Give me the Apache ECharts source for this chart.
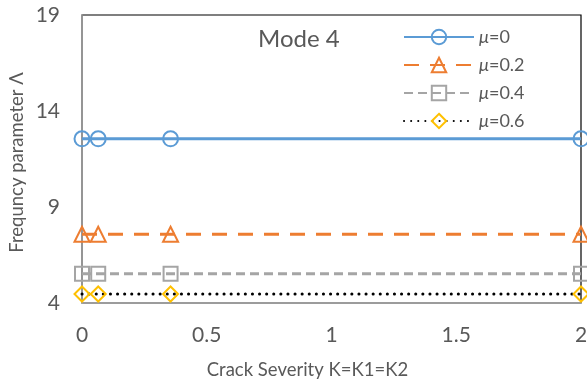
<!DOCTYPE html>
<html>
<head>
<meta charset="utf-8">
<script src="https://cdn.jsdelivr.net/npm/echarts@6/dist/echarts.min.js"></script>
<style>
  html, body { margin: 0; padding: 0; background: #fff; }
  #chart { width: 587px; height: 388px; }
</style>
</head>
<body>
<div id="chart"></div>
<script>
// Crack severity values (K = K1 = K2)
const crackSeverity = [0, 0.065, 0.355, 2];

// Frequency parameter for each friction coefficient
const seriesNames = ['0', '0.2', '0.4', '0.6'];
const lambdaMu0  = [12.55, 12.55, 12.55, 12.55];
const lambdaMu02 = [7.58, 7.58, 7.58, 7.58];
const lambdaMu04 = [5.52, 5.52, 5.52, 5.52];
const lambdaMu06 = [4.47, 4.47, 4.47, 4.47];

const yTicks = [4, 9, 14, 19];
const xTicks = [0, 0.5, 1, 1.5, 2];

const xTitle = 'Crack Severity K=K1=K2';
const yTitle = 'Frequncy parameter Λ';
const modeLabel = 'Mode 4';

const FONT = 'Lato, "Open Sans", sans-serif';
const TEXT = '#595959';

function pairs(ys) {
  return crackSeverity.map((x, i) => [x, ys[i]]);
}

const styles = [
  { color: '#5B9BD5', symbol: 'circle',   size: 15, line: { type: 'solid', width: 3 } },
  { color: '#ED7D31', symbol: 'triangle', size: 15, line: { type: [15, 11], width: 3 } },
  { color: '#A5A5A5', symbol: 'rect',     size: 14, line: { type: [9, 5], width: 3 } },
  { color: '#FFC000', symbol: 'diamond',  size: 15, line: { type: [0.1, 7], width: 3, cap: 'round', color: '#000' } }
];

const values = [lambdaMu0, lambdaMu02, lambdaMu04, lambdaMu06];

const series = values.map((ys, i) => {
  const s = styles[i];
  return {
    name: seriesNames[i],
    type: 'line',
    data: pairs(ys),
    symbol: s.symbol,
    symbolSize: s.size,
    showAllSymbol: true,
    clip: false,
    lineStyle: {
      color: s.line.color || s.color,
      width: s.line.width,
      type: s.line.type,
      cap: s.line.cap || 'butt'
    },
    itemStyle: {
      color: 'rgba(255,255,255,0)',
      borderColor: s.color,
      borderWidth: 2
    },
    emphasis: { disabled: true },
    animation: false
  };
});

const chart = echarts.init(document.getElementById('chart'), null, { renderer: 'canvas' });
chart.setOption({
  animation: false,
  textStyle: { fontFamily: FONT },
  grid: {
    left: 82, right: 6, top: 15, bottom: 85,
    containLabel: false,
    outerBoundsMode: 'none',
    show: true, borderColor: '#000', borderWidth: 1.2,
    backgroundColor: '#fff'
  },
  graphic: [
    {
      type: 'text', left: 258, top: 27,
      style: { text: modeLabel, fontSize: 24, fill: TEXT, fontFamily: FONT }
    },
    {
      type: 'text', x: 307.5, y: 370,
      style: { text: xTitle, fontSize: 18.5, fill: TEXT, fontFamily: FONT, align: 'center', verticalAlign: 'middle' }
    },
    {
      type: 'text', x: 17, y: 162.5, rotation: Math.PI / 2,
      style: { text: yTitle, fontSize: 18.5, fill: TEXT, fontFamily: FONT, align: 'center', verticalAlign: 'middle' }
    }
  ],
  legend: {
    left: 398, top: 23,
    orient: 'vertical',
    itemGap: 10,
    itemWidth: 70,
    itemHeight: 18,
    textStyle: {
      color: TEXT, fontSize: 18, fontFamily: FONT,
      rich: { i: { fontStyle: 'italic', fontSize: 18, color: TEXT, fontFamily: FONT } }
    },
    formatter: name => '{i|μ}=' + name,
    data: seriesNames
  },
  xAxis: {
    type: 'value',
    min: xTicks[0], max: xTicks[xTicks.length - 1], interval: 0.5,
    axisLine: { show: true, lineStyle: { color: '#A6A6A6', width: 1.5 } },
    axisTick: { show: false },
    splitLine: { show: false },
    axisLabel: { color: TEXT, fontSize: 21, margin: 22, fontFamily: FONT }
  },
  yAxis: {
    type: 'value',
    min: yTicks[0], max: yTicks[yTicks.length - 1], interval: 5,
    axisLine: { show: true, lineStyle: { color: '#A6A6A6', width: 1.5 } },
    axisTick: { show: false },
    splitLine: { show: false },
    axisLabel: { color: TEXT, fontSize: 21, margin: 22, fontFamily: FONT }
  },
  series: series
});
</script>
</body>
</html>
